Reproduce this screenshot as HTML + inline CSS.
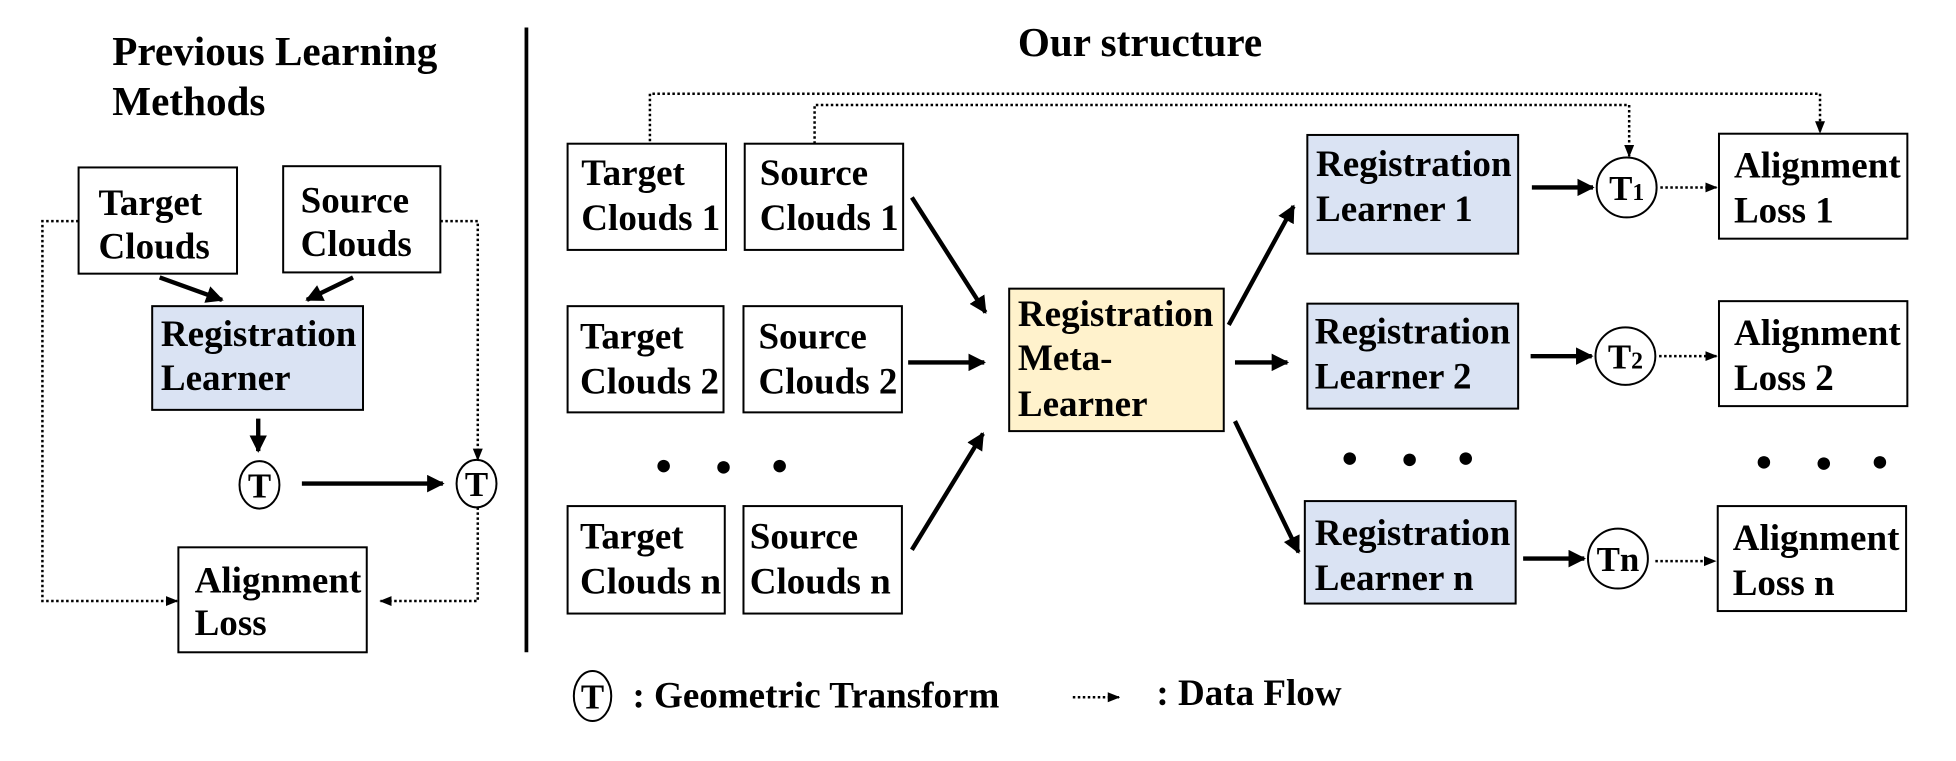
<!DOCTYPE html>
<html><head><meta charset="utf-8"><style>
html,body{margin:0;padding:0;background:#fff;}
svg{display:block;}
text{font-family:"Liberation Serif",serif;font-weight:bold;fill:#000;}
</style></head><body>
<svg width="1956" height="761" viewBox="0 0 1568 609" preserveAspectRatio="none" xmlns="http://www.w3.org/2000/svg">
<defs>
<marker id="a" viewBox="0 0 10 10" refX="9" refY="5" markerWidth="4" markerHeight="4" orient="auto"><path d="M0,0L10,5L0,10z" fill="#000"/></marker>
<marker id="d" viewBox="0 0 10 10" refX="9" refY="5" markerWidth="5" markerHeight="5" orient="auto"><path d="M0,1L10,5L0,9z" fill="#000"/></marker>
</defs>
<g font-size="33"><text x="90" y="52">Previous Learning</text><text x="90" y="92">Methods</text><text x="816" y="45">Our structure</text></g>
<line x1="422" y1="22" x2="422" y2="522" stroke="#000" stroke-width="3"/>
<g fill="#fff" stroke="#000" stroke-width="1.6">
<rect x="63" y="134" width="127" height="85"/><rect x="227" y="133" width="126" height="85"/>
<rect x="122" y="245" width="169" height="83" fill="#dae3f3"/>
<rect x="143" y="438" width="151" height="84"/>
<ellipse cx="208" cy="388" rx="16" ry="19"/><ellipse cx="382" cy="387" rx="16" ry="19"/>
<rect x="455" y="115" width="127" height="85"/><rect x="597" y="115" width="127" height="85"/>
<rect x="455" y="245" width="125" height="85"/><rect x="596" y="245" width="127" height="85"/>
<rect x="455" y="405" width="126" height="86"/><rect x="596" y="405" width="127" height="86"/>
<rect x="809" y="231" width="172" height="114" fill="#fff2cc"/>
<rect x="1048" y="108" width="169" height="95" fill="#dae3f3"/><rect x="1048" y="243" width="169" height="84" fill="#dae3f3"/><rect x="1046" y="401" width="169" height="82" fill="#dae3f3"/>
<ellipse cx="1304" cy="150" rx="24" ry="24"/><ellipse cx="1303" cy="285" rx="24" ry="23"/><ellipse cx="1297" cy="447" rx="24" ry="24"/>
<rect x="1378" y="107" width="151" height="84"/><rect x="1378" y="241" width="151" height="84"/><rect x="1377" y="405" width="151" height="84"/>
<ellipse cx="475" cy="557" rx="15" ry="20"/>
</g>
<g stroke="#000" stroke-width="3.5" fill="none" marker-end="url(#a)">
<line x1="128" y1="222" x2="178" y2="240"/><line x1="283" y1="222" x2="246" y2="240"/>
<line x1="207" y1="335" x2="207" y2="361"/><line x1="242" y1="387" x2="355" y2="387"/>
<line x1="731" y1="158" x2="790" y2="250"/><line x1="728" y1="290" x2="789" y2="290"/><line x1="731" y1="440" x2="788" y2="347"/>
<line x1="985" y1="260" x2="1037" y2="165"/><line x1="990" y1="290" x2="1032" y2="290"/><line x1="990" y1="337" x2="1041" y2="442"/>
<line x1="1228" y1="150" x2="1277" y2="150"/><line x1="1227" y1="285" x2="1276" y2="285"/><line x1="1221" y1="447" x2="1270" y2="447"/>
</g>
<g stroke="#000" stroke-width="2" stroke-dasharray="2,2" fill="none" marker-end="url(#d)">
<polyline points="63,177 34,177 34,481 142,481"/>
<polyline points="353,177 383,177 383,368"/>
<polyline points="383,406 383,481 305,481"/>
<polyline points="521,113 521,75 1459,75 1459,106"/>
<polyline points="653,115 653,84 1306,84 1306,125"/>
<line x1="1331" y1="150" x2="1376" y2="150"/><line x1="1330" y1="285" x2="1376" y2="285"/><line x1="1327" y1="449" x2="1375" y2="449"/>
<line x1="860" y1="558" x2="897" y2="558"/>
</g>
<g fill="#000"><circle cx="532" cy="373" r="5"/><circle cx="580" cy="374" r="5"/><circle cx="625" cy="373" r="5"/>
<circle cx="1082" cy="367" r="5"/><circle cx="1130" cy="368" r="5"/><circle cx="1175" cy="367" r="5"/>
<circle cx="1414" cy="370" r="5"/><circle cx="1462" cy="371" r="5"/><circle cx="1507" cy="370" r="5"/></g>
<g font-size="29.7">
<text x="79" y="172">Target</text><text x="79" y="207">Clouds</text>
<text x="241" y="170">Source</text><text x="241" y="205">Clouds</text>
<text x="129" y="277">Registration</text><text x="129" y="312">Learner</text>
<text x="156" y="474">Alignment</text><text x="156" y="508">Loss</text>
<text x="466" y="148">Target</text><text x="466" y="184">Clouds 1</text>
<text x="609" y="148">Source</text><text x="609" y="184">Clouds 1</text>
<text x="465" y="279">Target</text><text x="465" y="315">Clouds 2</text>
<text x="608" y="279">Source</text><text x="608" y="315">Clouds 2</text>
<text x="465" y="439">Target</text><text x="465" y="475">Clouds n</text>
<text x="601" y="439">Source</text><text x="601" y="475">Clouds n</text>
<text x="816" y="261">Registration</text><text x="816" y="296">Meta-</text><text x="816" y="333">Learner</text>
<text x="1055" y="141">Registration</text><text x="1055" y="177">Learner 1</text>
<text x="1054" y="275">Registration</text><text x="1054" y="311">Learner 2</text>
<text x="1054" y="436">Registration</text><text x="1054" y="472">Learner n</text>
<text x="1390" y="142">Alignment</text><text x="1390" y="178">Loss 1</text>
<text x="1390" y="276">Alignment</text><text x="1390" y="312">Loss 2</text>
<text x="1389" y="440">Alignment</text><text x="1389" y="476">Loss n</text>
<text x="507" y="566">: Geometric Transform</text><text x="927" y="564">: Data Flow</text>
</g>
<g font-size="28" text-anchor="middle">
<text x="208" y="398">T</text><text x="382" y="397">T</text><text x="475" y="567">T</text>
<text x="1304" y="160">T<tspan font-size="19">1</tspan></text>
<text x="1303" y="295">T<tspan font-size="19">2</tspan></text>
<text x="1297" y="457">Tn</text>
</g>
</svg>
</body></html>
